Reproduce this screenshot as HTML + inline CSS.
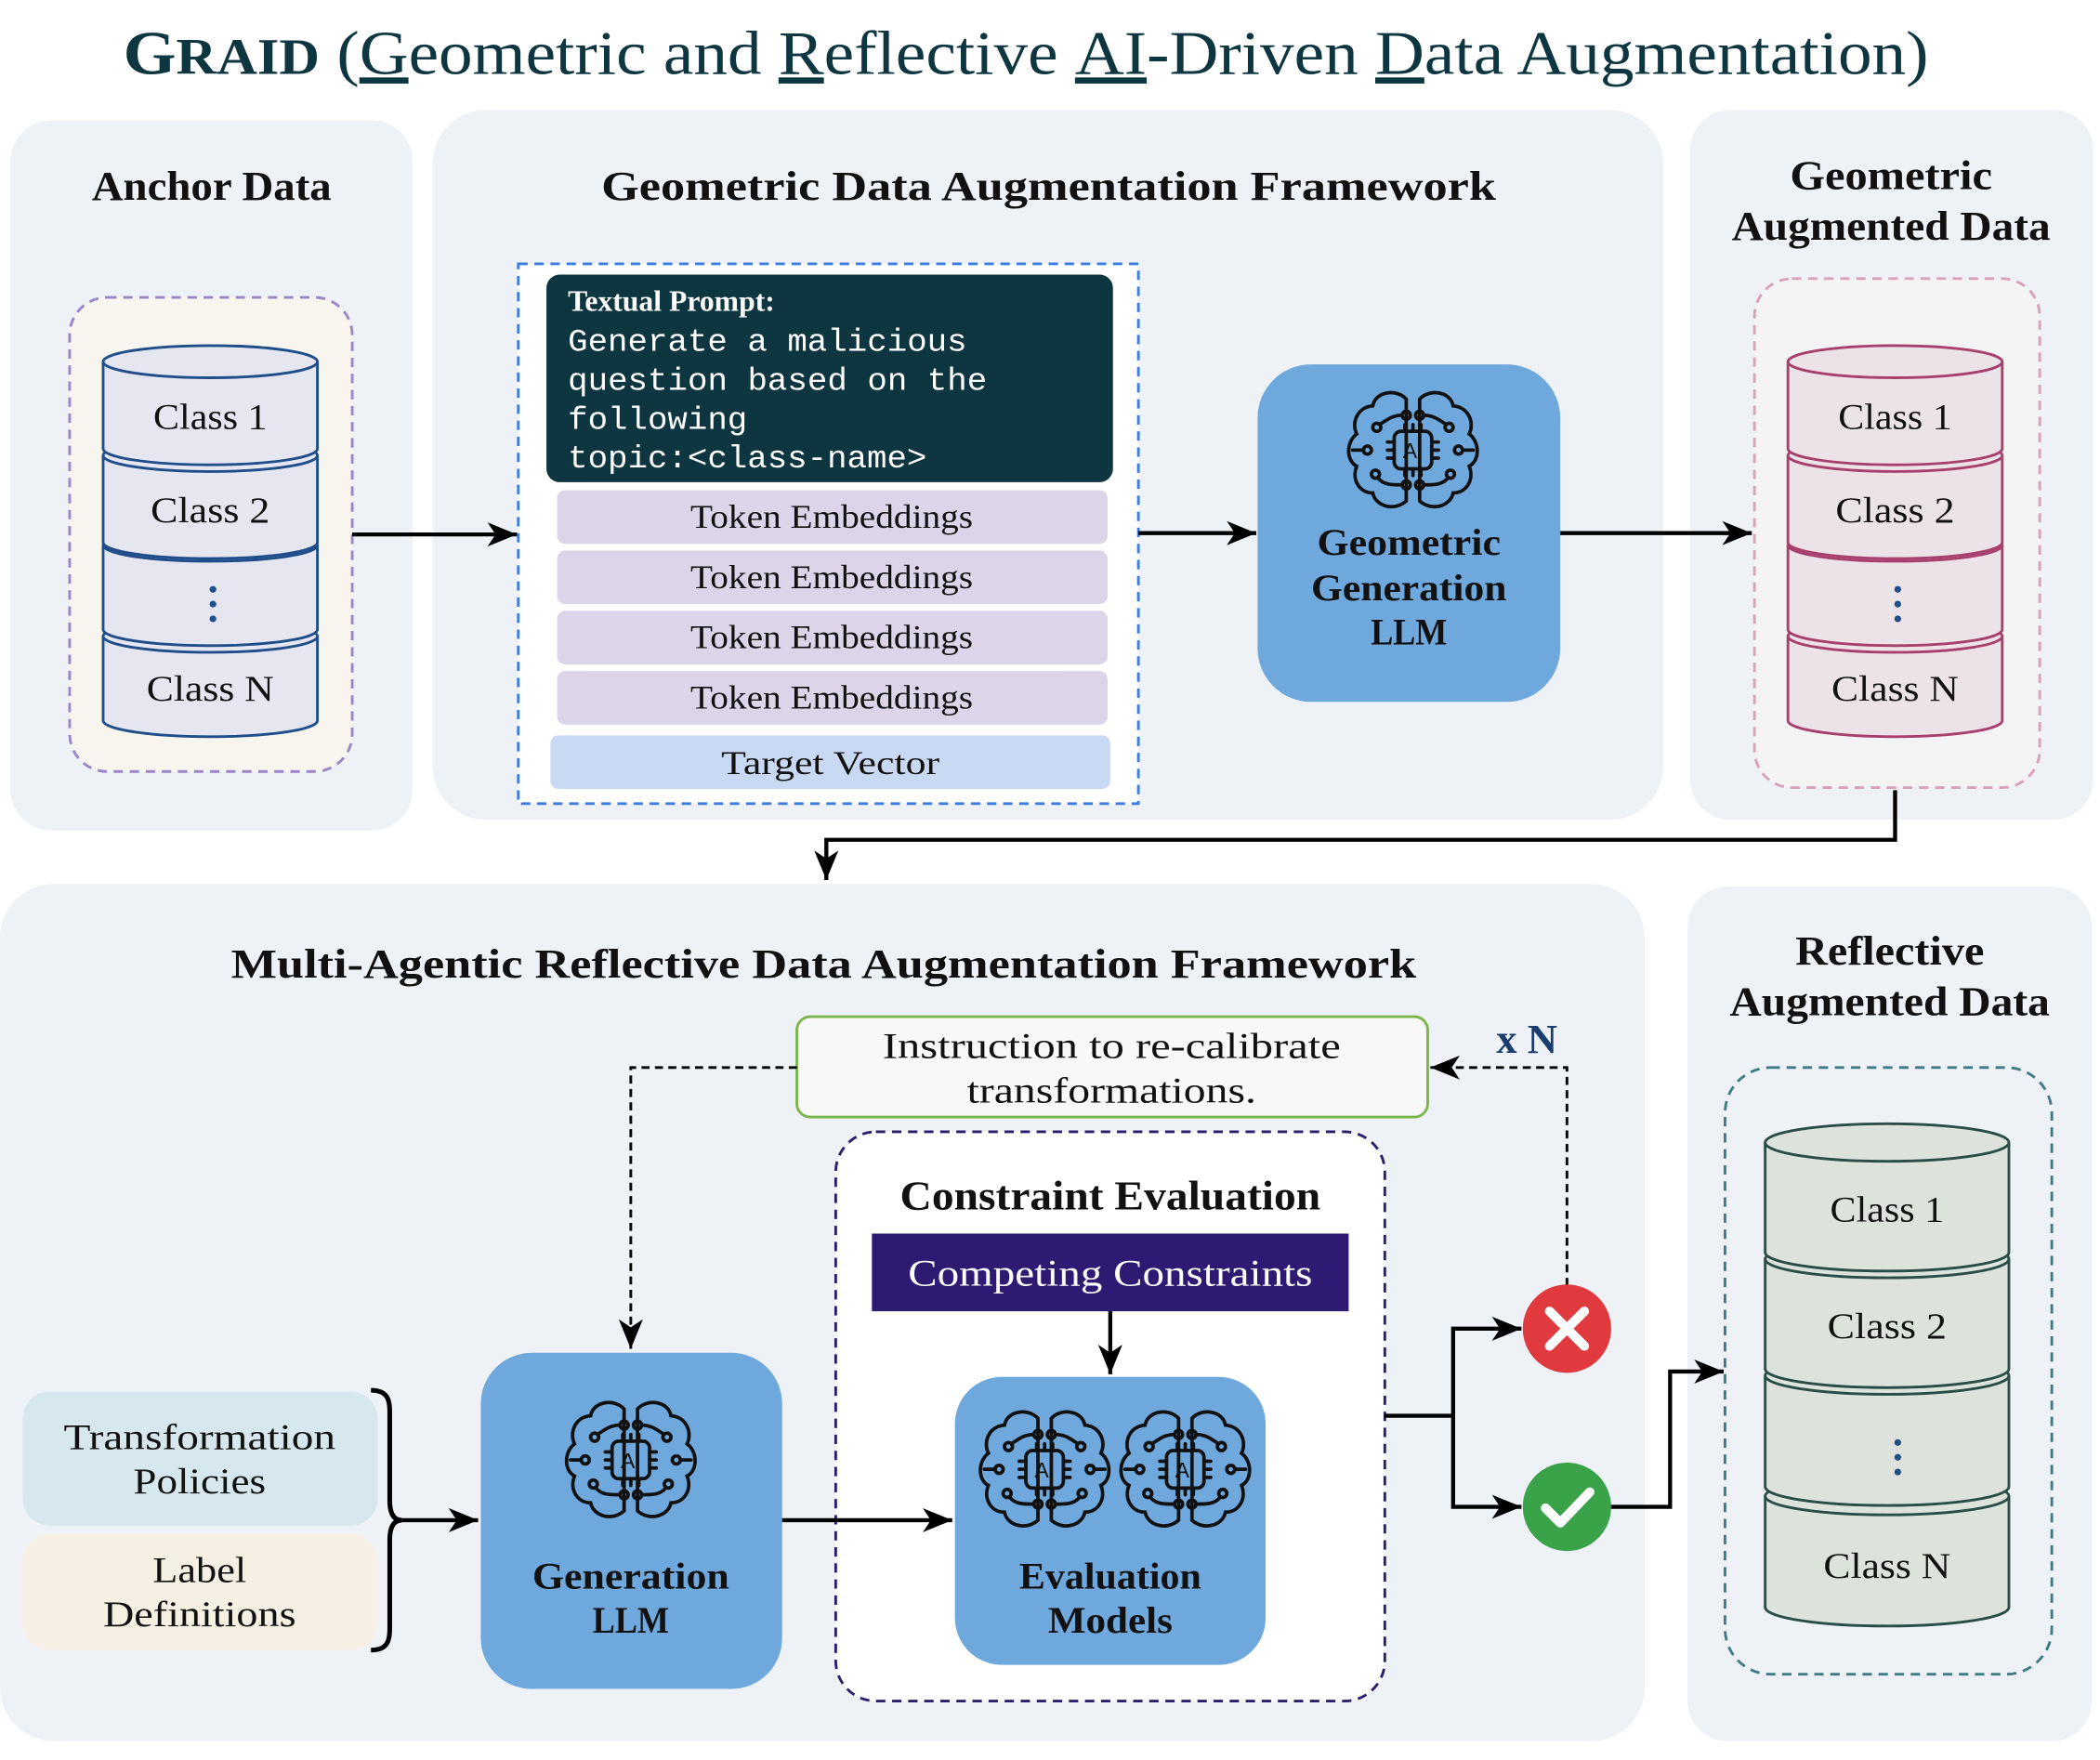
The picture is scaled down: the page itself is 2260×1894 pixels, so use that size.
<!DOCTYPE html>
<html><head><meta charset="utf-8"><style>html,body{margin:0;padding:0;background:#fff}svg{display:block}
text{font-family:"Liberation Serif",serif;fill:#111}</style></head><body>
<svg width="2260" height="1894" viewBox="0 0 1568 1314" xmlns="http://www.w3.org/2000/svg">
<defs>
<marker id="ah2" markerWidth="24" markerHeight="20" refX="22" refY="10" orient="auto" markerUnits="userSpaceOnUse"><path d="M0,1 L22,10 L0,19 L6,10 z" fill="#000"/></marker>
<g id="brain" fill="none" stroke="#111" stroke-width="2.6" stroke-linecap="round">
<path d="M-5,-38 C-12,-46 -28,-44 -30,-33 C-42,-32 -46,-20 -42,-12 C-50,-6 -50,8 -42,12 C-46,22 -40,32 -30,32 C-28,42 -14,46 -5,38 Z"/>
<path d="M5,-38 C12,-46 28,-44 30,-33 C42,-32 46,-20 42,-12 C50,-6 50,8 42,12 C46,22 40,32 30,32 C28,42 14,46 5,38 Z"/>
<rect x="-14" y="-14" width="28" height="28" rx="5"/>
<path d="M-6,-14v-5M0,-14v-5M6,-14v-5M-6,14v5M0,14v5M6,14v5M-14,-6h-5M-14,0h-5M-14,6h-5M14,-6h5M14,0h5M14,6h5"/>
<circle cx="-5" cy="-26" r="3"/><circle cx="5" cy="-26" r="3"/><circle cx="-27" cy="-17" r="3"/><circle cx="27" cy="-17" r="3"/>
<circle cx="-34" cy="0" r="3"/><circle cx="34" cy="0" r="3"/><circle cx="-28" cy="18" r="3"/><circle cx="28" cy="18" r="3"/>
<circle cx="-5" cy="26" r="3"/><circle cx="5" cy="26" r="3"/>
<path d="M-8,-26 C-16,-26 -20,-22 -25,-19M8,-26 C16,-26 20,-22 25,-19M-26,21 C-22,26 -16,26 -8,26M26,21 C22,26 16,26 8,26M-37,0h-8M37,0h8"/>
<text x="0" y="6" font-family="Liberation Sans,sans-serif" font-size="16" stroke="none" fill="#111" text-anchor="middle" style="font-family:'Liberation Sans',sans-serif">AI</text>
</g>
</defs>
<rect width="1568" height="1314" fill="#fff"/>
<text x="766" y="55" font-size="46" text-anchor="middle" style="fill:#0e3640" font-weight="bold" textLength="1348" lengthAdjust="spacingAndGlyphs">G<tspan font-size="38">RAID</tspan> <tspan font-weight="normal">(<tspan text-decoration="underline">G</tspan>eometric and <tspan text-decoration="underline">R</tspan>eflective <tspan text-decoration="underline">AI</tspan>-Driven <tspan text-decoration="underline">D</tspan>ata Augmentation)</tspan></text>
<g fill="#eef1f6">
<rect x="8" y="90" width="300" height="530" rx="30"/>
<rect x="323" y="82" width="919" height="530" rx="40"/>
<rect x="1262" y="82" width="301" height="530" rx="30"/>
<rect x="0" y="660" width="1228" height="640" rx="40"/>
<rect x="1260" y="662" width="302" height="638" rx="30"/>
</g>
<g font-size="31" font-weight="bold" text-anchor="middle" lengthAdjust="spacingAndGlyphs">
<text x="158" y="149" textLength="179" lengthAdjust="spacingAndGlyphs">Anchor Data</text>
<text x="783" y="149" textLength="668" lengthAdjust="spacingAndGlyphs">Geometric Data Augmentation Framework</text>
<text x="1412" y="141" textLength="151" lengthAdjust="spacingAndGlyphs">Geometric</text><text x="1412" y="179" textLength="238" lengthAdjust="spacingAndGlyphs">Augmented Data</text>
<text x="615" y="730" textLength="885" lengthAdjust="spacingAndGlyphs">Multi-Agentic Reflective Data Augmentation Framework</text>
<text x="1411" y="720" textLength="141" lengthAdjust="spacingAndGlyphs">Reflective</text><text x="1411" y="758" textLength="239" lengthAdjust="spacingAndGlyphs">Augmented Data</text>
</g>
<rect x="52" y="222" width="211" height="354" rx="28" fill="#f8f5ef" stroke="#9a86c8" stroke-width="2" stroke-dasharray="7,5"/>
<rect x="1310" y="208" width="213" height="380" rx="28" fill="#f5f4f5" stroke="#d9a2b8" stroke-width="2" stroke-dasharray="7,5"/>
<rect x="1288" y="797" width="244" height="453" rx="34" fill="#eef1f6" stroke="#3e7b82" stroke-width="2" stroke-dasharray="7,5"/>
<g fill="#e6e6f0" stroke="#1f4e8a" stroke-width="2">
<path d="M77,475 V538 A80,12 0 0 0 237,538 V475"/><ellipse cx="157" cy="475" rx="80" ry="12"/>
<path d="M77,407 V470 A80,12 0 0 0 237,470 V407"/><ellipse cx="157" cy="407" rx="80" ry="12"/>
<path d="M77,340 V405 A80,12 0 0 0 237,405 V340"/><ellipse cx="157" cy="340" rx="80" ry="12"/>
<path d="M77,270 V335 A80,12 0 0 0 237,335 V270"/><ellipse cx="157" cy="270" rx="80" ry="12"/>
</g>
<g fill="#1f4e8a"><circle cx="159" cy="440" r="2.5"/><circle cx="159" cy="451" r="2.5"/><circle cx="159" cy="462" r="2.5"/></g>
<g fill="#ece3e9" stroke="#a8406e" stroke-width="2">
<path d="M1335,475 V538 A80,12 0 0 0 1495,538 V475"/><ellipse cx="1415" cy="475" rx="80" ry="12"/>
<path d="M1335,407 V470 A80,12 0 0 0 1495,470 V407"/><ellipse cx="1415" cy="407" rx="80" ry="12"/>
<path d="M1335,340 V405 A80,12 0 0 0 1495,405 V340"/><ellipse cx="1415" cy="340" rx="80" ry="12"/>
<path d="M1335,270 V335 A80,12 0 0 0 1495,335 V270"/><ellipse cx="1415" cy="270" rx="80" ry="12"/>
</g>
<g fill="#1f4e8a"><circle cx="1417" cy="440" r="2.5"/><circle cx="1417" cy="451" r="2.5"/><circle cx="1417" cy="462" r="2.5"/></g>
<g fill="#dde2dc" stroke="#2a4d47" stroke-width="2">
<path d="M1318,1117 V1200 A91,14 0 0 0 1500,1200 V1117"/><ellipse cx="1409" cy="1117" rx="91" ry="14"/>
<path d="M1318,1027 V1110 A91,14 0 0 0 1500,1110 V1027"/><ellipse cx="1409" cy="1027" rx="91" ry="14"/>
<path d="M1318,940 V1022 A91,14 0 0 0 1500,1022 V940"/><ellipse cx="1409" cy="940" rx="91" ry="14"/>
<path d="M1318,853 V935 A91,14 0 0 0 1500,935 V853"/><ellipse cx="1409" cy="853" rx="91" ry="14"/>
</g>
<g fill="#1f4e8a"><circle cx="1417" cy="1077" r="2.5"/><circle cx="1417" cy="1088" r="2.5"/><circle cx="1417" cy="1099" r="2.5"/></g>
<g font-size="27" text-anchor="middle">
<text x="157" y="320" textLength="85" lengthAdjust="spacingAndGlyphs">Class 1</text><text x="157" y="390" textLength="89" lengthAdjust="spacingAndGlyphs">Class 2</text><text x="157" y="523" textLength="95" lengthAdjust="spacingAndGlyphs">Class N</text>
<text x="1415" y="320" textLength="85" lengthAdjust="spacingAndGlyphs">Class 1</text><text x="1415" y="390" textLength="89" lengthAdjust="spacingAndGlyphs">Class 2</text><text x="1415" y="523" textLength="95" lengthAdjust="spacingAndGlyphs">Class N</text>
<text x="1409" y="912" textLength="85" lengthAdjust="spacingAndGlyphs">Class 1</text><text x="1409" y="999" textLength="89" lengthAdjust="spacingAndGlyphs">Class 2</text><text x="1409" y="1178" textLength="95" lengthAdjust="spacingAndGlyphs">Class N</text>
</g>
<rect x="387" y="197" width="463" height="403" fill="#fff" stroke="#3b7de0" stroke-width="2" stroke-dasharray="7,5"/>
<rect x="408" y="205" width="423" height="155" rx="10" fill="#0e3640"/>
<text x="424" y="232" font-size="22" font-weight="bold" style="fill:#fff">Textual Prompt:</text>
<g font-size="24">
<text x="424" y="262" textLength="298" lengthAdjust="spacingAndGlyphs" style="fill:#fff;font-family:'Liberation Mono',monospace">Generate a malicious</text>
<text x="424" y="291" textLength="313" lengthAdjust="spacingAndGlyphs" style="fill:#fff;font-family:'Liberation Mono',monospace">question based on the</text>
<text x="424" y="320" textLength="134" lengthAdjust="spacingAndGlyphs" style="fill:#fff;font-family:'Liberation Mono',monospace">following</text>
<text x="424" y="349" textLength="268" lengthAdjust="spacingAndGlyphs" style="fill:#fff;font-family:'Liberation Mono',monospace">topic:&lt;class-name&gt;</text>
</g>
<g fill="#dcd4e8">
<rect x="416" y="366" width="411" height="40" rx="6"/><rect x="416" y="411" width="411" height="40" rx="6"/>
<rect x="416" y="456" width="411" height="40" rx="6"/><rect x="416" y="501" width="411" height="40" rx="6"/>
</g>
<rect x="411" y="549" width="418" height="40" rx="6" fill="#c9d9f3"/>
<g font-size="25" text-anchor="middle">
<text x="621" y="394" textLength="211" lengthAdjust="spacingAndGlyphs">Token Embeddings</text><text x="621" y="439" textLength="211" lengthAdjust="spacingAndGlyphs">Token Embeddings</text>
<text x="621" y="484" textLength="211" lengthAdjust="spacingAndGlyphs">Token Embeddings</text><text x="621" y="529" textLength="211" lengthAdjust="spacingAndGlyphs">Token Embeddings</text>
<text x="620" y="578" textLength="163" lengthAdjust="spacingAndGlyphs">Target Vector</text>
</g>
<rect x="939" y="272" width="226" height="252" rx="40" fill="#6fa8dc"/>
<use href="#brain" transform="translate(1055,336)"/>
<g font-size="28" font-weight="bold" text-anchor="middle">
<text x="1052" y="414" textLength="137" lengthAdjust="spacingAndGlyphs">Geometric</text><text x="1052" y="448" textLength="146" lengthAdjust="spacingAndGlyphs">Generation</text><text x="1052" y="481" textLength="57" lengthAdjust="spacingAndGlyphs">LLM</text>
</g>
<g stroke="#000" stroke-width="3" fill="none" marker-end="url(#ah2)">
<path d="M263,399 H386"/><path d="M850,398 H938"/><path d="M1165,398 H1308"/>
<path d="M1415,590 V627 H617 V657"/>
</g>
<rect x="595" y="759" width="471" height="75" rx="10" fill="#f8f8f8" stroke="#7ab648" stroke-width="2"/>
<text x="830" y="790" font-size="27" text-anchor="middle" textLength="342" lengthAdjust="spacingAndGlyphs">Instruction to re-calibrate</text>
<text x="830" y="823" font-size="27" text-anchor="middle" textLength="216" lengthAdjust="spacingAndGlyphs">transformations.</text>
<text x="1140" y="786" font-size="31" font-weight="bold" text-anchor="middle" style="fill:#1a3d6e">x N</text>
<g stroke="#000" stroke-width="2" fill="none" stroke-dasharray="6,4" marker-end="url(#ah2)">
<path d="M595,797 H471 V1007"/><path d="M1170,960 V797 H1068"/>
</g>
<rect x="624" y="845" width="410" height="425" rx="30" fill="#fff" stroke="#2d1e6b" stroke-width="2" stroke-dasharray="7,5"/>
<text x="829" y="903" font-size="31" font-weight="bold" text-anchor="middle" textLength="314" lengthAdjust="spacingAndGlyphs">Constraint Evaluation</text>
<rect x="651" y="921" width="356" height="58" fill="#2e1a73"/>
<text x="829" y="960" font-size="28" text-anchor="middle" style="fill:#fff" textLength="302" lengthAdjust="spacingAndGlyphs">Competing Constraints</text>
<rect x="713" y="1028" width="232" height="215" rx="35" fill="#6fa8dc"/>
<use href="#brain" transform="translate(780,1097)"/><use href="#brain" transform="translate(885,1097)"/>
<g font-size="28" font-weight="bold" text-anchor="middle">
<text x="829" y="1186" textLength="136" lengthAdjust="spacingAndGlyphs">Evaluation</text><text x="829" y="1219" textLength="93" lengthAdjust="spacingAndGlyphs">Models</text>
</g>
<rect x="359" y="1010" width="225" height="251" rx="38" fill="#6fa8dc"/>
<use href="#brain" transform="translate(471,1090)"/>
<g font-size="28" font-weight="bold" text-anchor="middle">
<text x="471" y="1186" textLength="147" lengthAdjust="spacingAndGlyphs">Generation</text><text x="471" y="1219" textLength="57" lengthAdjust="spacingAndGlyphs">LLM</text>
</g>
<rect x="17" y="1039" width="265" height="100" rx="20" fill="#d6e8ee"/>
<rect x="17" y="1145" width="265" height="87" rx="20" fill="#f5f0e3"/>
<g font-size="27" text-anchor="middle">
<text x="149" y="1082" textLength="203" lengthAdjust="spacingAndGlyphs">Transformation</text><text x="149" y="1115" textLength="99" lengthAdjust="spacingAndGlyphs">Policies</text>
<text x="149" y="1181" textLength="70" lengthAdjust="spacingAndGlyphs">Label</text><text x="149" y="1214" textLength="144" lengthAdjust="spacingAndGlyphs">Definitions</text>
</g>
<path d="M277,1038 C292,1038 291,1048 291,1060 V1120 C291,1130 294,1135 300,1135 C294,1135 291,1140 291,1150 V1210 C291,1222 292,1232 277,1232" fill="none" stroke="#000" stroke-width="3.5"/>
<g stroke="#000" stroke-width="3" fill="none" marker-end="url(#ah2)">
<path d="M300,1135 H357"/><path d="M584,1135 H711"/><path d="M829,979 V1026"/>
<path d="M1034,1057 H1085 V992 H1136"/><path d="M1085,1057 V1125 H1136"/>
<path d="M1202,1125 H1247 V1024 H1287"/>
</g>
<circle cx="1170" cy="992" r="33" fill="#e03a3e"/>
<path d="M1157,979 L1183,1005 M1183,979 L1157,1005" stroke="#fff" stroke-width="7" stroke-linecap="round"/>
<circle cx="1170" cy="1125" r="33" fill="#3aa34a"/>
<path d="M1154,1126 L1165,1137 L1187,1114" stroke="#fff" stroke-width="7" fill="none" stroke-linecap="round" stroke-linejoin="round"/>
</svg>
</body></html>
